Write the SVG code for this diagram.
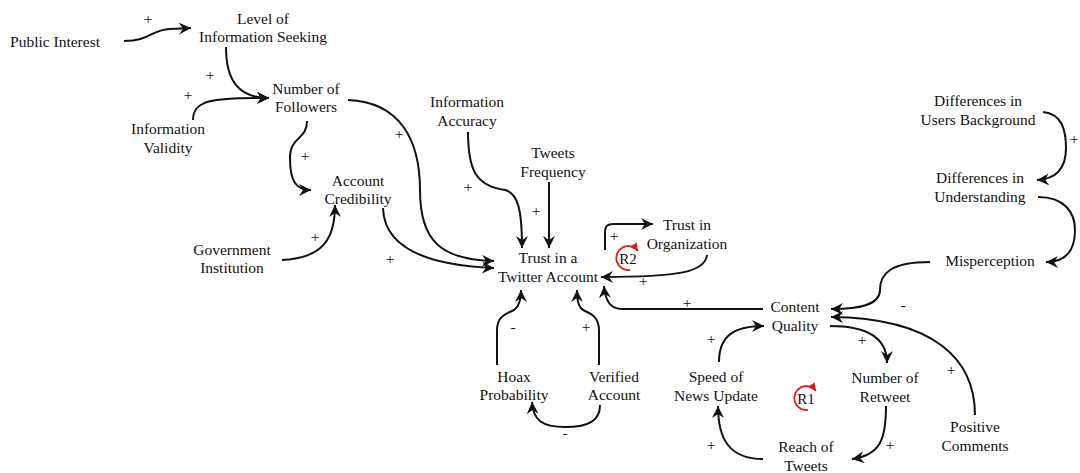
<svg xmlns="http://www.w3.org/2000/svg" width="1080" height="473" viewBox="0 0 1080 473">
<style>
text{font-family:"Liberation Serif","Times New Roman","DejaVu Serif",serif;font-size:15.5px;fill:#111;text-anchor:middle}
.pol{font-size:14px}
.c{fill:none;stroke:#111;stroke-width:2}
.loop{fill:none;stroke:#e8141c;stroke-width:1.8}
.lt{font-size:15px}
</style>
<defs>
<marker id="ah" markerUnits="userSpaceOnUse" markerWidth="14" markerHeight="14" refX="12" refY="6" orient="auto">
<path d="M0,0 L12,6 L0,12 L4,6 z" fill="#111"/>
</marker>
<marker id="rh" markerUnits="userSpaceOnUse" markerWidth="10" markerHeight="10" refX="8" refY="4" orient="auto">
<path d="M0,0 L8,4 L0,8 z" fill="#e8141c"/>
</marker>
</defs>
<rect width="1080" height="473" fill="#fff"/>

<g id="connectors">
<path class="c" marker-end="url(#ah)" d="M124,41 C150,41 150,30 170,29 L191,28"/>
<path class="c" marker-end="url(#ah)" d="M226,47 C226,80 238,98 269,98"/>
<path class="c" marker-end="url(#ah)" d="M193,120 C193,101 210,97 269,98"/>
<path class="c" marker-end="url(#ah)" d="M307,121 C307,140 290,136 290,158 C290,180 295,190 311,190"/>
<path class="c" marker-end="url(#ah)" d="M282,260 C322,258 335,240 335,205"/>
<path class="c" marker-end="url(#ah)" d="M383,208 C384,245 420,265 494,268"/>
<path class="c" marker-end="url(#ah)" d="M348,100 C400,102 420,140 420,190 C420,240 440,260 494,261"/>
<path class="c" marker-end="url(#ah)" d="M468,132 C468,170 476,186 505,190 C518,193 522,210 522,248"/>
<path class="c" marker-end="url(#ah)" d="M549,182 L549,248"/>
<path class="c" marker-end="url(#ah)" d="M605,250 L605,233 C605,226 607,224 614,224 L653,224"/>
<path class="c" marker-end="url(#ah)" d="M707,255 C705,272 680,277 601,277"/>
<path class="c" marker-end="url(#ah)" d="M763,309 L622,309 C610,309 605,300 604,286"/>
<path class="c" marker-end="url(#ah)" d="M497,365 L497,330 C497,318 504,314 512,311 C519,308 521,300 521,290"/>
<path class="c" marker-end="url(#ah)" d="M599,365 L599,330 C599,318 592,314 585,311 C578,308 577,300 577,290"/>
<path class="c" marker-end="url(#ah)" d="M600,405 C600,420 590,427 565,427 C542,427 533,420 532,402"/>
<path class="c" marker-end="url(#ah)" d="M930,262 C890,262 880,274 880,290 C880,304 862,309 831,309"/>
<path class="c" marker-end="url(#ah)" d="M975,415 C975,360 935,318 831,317"/>
<path class="c" marker-end="url(#ah)" d="M830,326 C870,326 887,340 887,363"/>
<path class="c" marker-end="url(#ah)" d="M886,406 C886,440 880,455 852,459"/>
<path class="c" marker-end="url(#ah)" d="M763,459 C730,459 718,440 718,406"/>
<path class="c" marker-end="url(#ah)" d="M719,362 C719,335 735,326 764,326"/>
<path class="c" marker-end="url(#ah)" d="M1043,112 C1062,114 1066,130 1066,148 C1066,168 1056,179 1037,180"/>
<path class="c" marker-end="url(#ah)" d="M1038,197 C1064,197 1075,212 1075,230 C1075,250 1066,262 1046,262"/>
</g>

<g id="polarities" class="pol">
<text x="148" y="24">+</text>
<text x="210" y="80">+</text>
<text x="188" y="100">+</text>
<text x="305" y="161">+</text>
<text x="315" y="242">+</text>
<text x="390" y="264">+</text>
<text x="399" y="139">+</text>
<text x="468" y="192">+</text>
<text x="536" y="216">+</text>
<text x="614" y="241">+</text>
<text x="643" y="286">+</text>
<text x="687" y="308">+</text>
<text x="513" y="332">-</text>
<text x="586" y="332">+</text>
<text x="565" y="438">-</text>
<text x="903" y="310">-</text>
<text x="951" y="375">+</text>
<text x="862" y="345">+</text>
<text x="890" y="450">+</text>
<text x="711" y="450">+</text>
<text x="711" y="344">+</text>
<text x="1074" y="144">+</text>
</g>

<g id="loopR2">
<path class="loop" marker-end="url(#rh)" d="M630,270 A12,12 0 1 1 638,251"/>
<text class="lt" x="628" y="264">R2</text>
</g>
<g id="loopR1">
<path class="loop" marker-end="url(#rh)" d="M808,410 A12,12 0 1 1 816,391"/>
<text class="lt" x="806" y="404">R1</text>
</g>

<g id="public-interest"><text x="55" y="47">Public Interest</text></g>
<g id="level-info-seeking"><text x="263" y="24">Level of</text><text x="263" y="42">Information Seeking</text></g>
<g id="number-followers"><text x="306" y="94">Number of</text><text x="306" y="112">Followers</text></g>
<g id="info-validity"><text x="168" y="134">Information</text><text x="168" y="153">Validity</text></g>
<g id="account-credibility"><text x="358" y="186">Account</text><text x="358" y="204">Credibility</text></g>
<g id="gov-institution"><text x="232" y="255">Government</text><text x="232" y="273">Institution</text></g>
<g id="info-accuracy"><text x="467" y="107">Information</text><text x="467" y="126">Accuracy</text></g>
<g id="tweets-frequency"><text x="553" y="158">Tweets</text><text x="553" y="177">Frequency</text></g>
<g id="trust-twitter"><text x="548" y="263">Trust in a</text><text x="548" y="282">Twitter Account</text></g>
<g id="trust-org"><text x="687" y="230">Trust in</text><text x="687" y="249">Organization</text></g>
<g id="diff-background"><text x="978" y="106">Differences in</text><text x="978" y="125">Users Background</text></g>
<g id="diff-understanding"><text x="980" y="183">Differences in</text><text x="980" y="202">Understanding</text></g>
<g id="misperception"><text x="990" y="266">Misperception</text></g>
<g id="content-quality"><text x="795" y="312">Content</text><text x="795" y="331">Quality</text></g>
<g id="hoax-probability"><text x="514" y="382">Hoax</text><text x="514" y="400">Probability</text></g>
<g id="verified-account"><text x="614" y="382">Verified</text><text x="614" y="400">Account</text></g>
<g id="speed-news"><text x="716" y="382">Speed of</text><text x="716" y="401">News Update</text></g>
<g id="number-retweet"><text x="885" y="383">Number of</text><text x="885" y="402">Retweet</text></g>
<g id="positive-comments"><text x="975" y="432">Positive</text><text x="975" y="451">Comments</text></g>
<g id="reach-tweets"><text x="806" y="452">Reach of</text><text x="806" y="471">Tweets</text></g>
</svg>
